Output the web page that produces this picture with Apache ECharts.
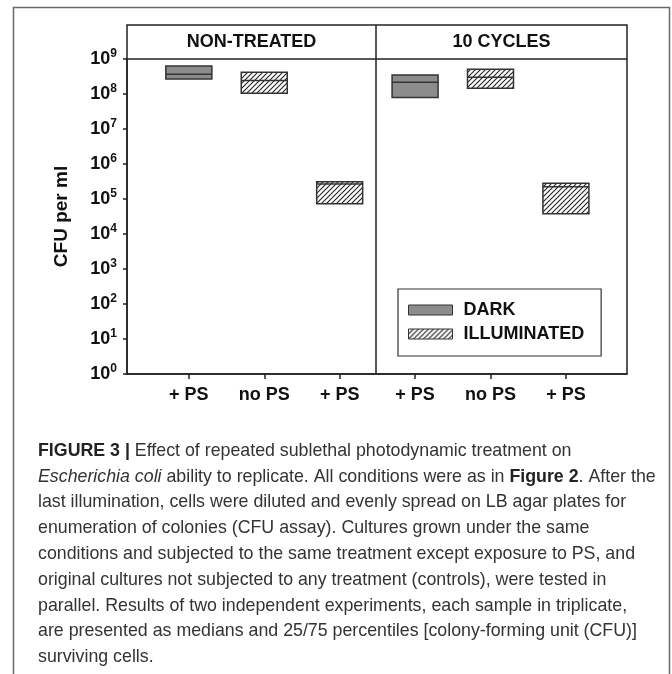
<!DOCTYPE html>
<html><head><meta charset="utf-8">
<script src="https://cdn.jsdelivr.net/npm/echarts@6/dist/echarts.min.js"></script>
<style>html,body{margin:0;padding:0;background:#fff}#c{width:672px;height:674px}</style>
</head><body><div id="c"></div>
<script>
// ---- data ----
const categories = ['+ PS', 'no PS', '+ PS', '+ PS', 'no PS', '+ PS'];
const panels = ['NON-TREATED', '10 CYCLES'];
const groups = ['DARK', 'ILLUMINATED', 'ILLUMINATED', 'DARK', 'ILLUMINATED', 'ILLUMINATED'];
const q25 = [2.7e8, 1.05e8, 7.3e4, 8.0e7, 1.45e8, 3.8e4];
const medians = [3.66e8, 2.45e8, 2.7e5, 2.16e8, 3.0e8, 2.24e5];
const q75 = [6.3e8, 4.2e8, 3.1e5, 3.5e8, 5.07e8, 2.8e5];
const legendNames = ['DARK', 'ILLUMINATED'];
const yTitle = 'CFU per ml';
const captionLines = [
  '{b|FIGURE 3 |}{n| Effect of repeated sublethal photodynamic treatment on}',
  '{i|Escherichia coli}{n| ability to replicate. All conditions were as in }{b|Figure 2}{n|. After the}',
  '{n|last illumination, cells were diluted and evenly spread on LB agar plates for}',
  '{n|enumeration of colonies (CFU assay). Cultures grown under the same}',
  '{n|conditions and subjected to the same treatment except exposure to PS, and}',
  '{n|original cultures not subjected to any treatment (controls), were tested in}',
  '{n|parallel. Results of two independent experiments, each sample in triplicate,}',
  '{n|are presented as medians and 25/75 percentiles [colony-forming unit (CFU)]}',
  '{n|surviving cells.}'
];

// ---- styling ----
const FONT = 'Liberation Sans, Arial, Helvetica, sans-serif';
const DARK_FILL = '#8c8c8c';
const BOX_W = 0.61;
const CAP_SIZE = 17.8;

function makeHatch() {
  const s = 5;
  const c = document.createElement('canvas'); c.width = s; c.height = s;
  const g = c.getContext('2d');
  g.fillStyle = '#fff'; g.fillRect(0, 0, s, s);
  g.strokeStyle = '#222'; g.lineWidth = 1.1;
  g.beginPath();
  g.moveTo(-1, s + 1); g.lineTo(s + 1, -1);
  g.moveTo(-1, 1); g.lineTo(1, -1);
  g.moveTo(s - 1, s + 1); g.lineTo(s + 1, s - 1);
  g.stroke();
  return c;
}
const hatchPattern = { image: makeHatch(), repeat: 'repeat' };
const fills = { DARK: DARK_FILL, ILLUMINATED: hatchPattern };

function seriesData(name) {
  const out = [];
  groups.forEach((g, i) => { if (g === name) out.push([i, q25[i], medians[i], q75[i]]); });
  return out;
}

function renderBox(fill) {
  return function (params, api) {
    const x = api.value(0);
    const lo = api.coord([x, api.value(1)]);
    const md = api.coord([x, api.value(2)]);
    const hi = api.coord([x, api.value(3)]);
    const w = api.size([BOX_W, 1])[0];
    const x0 = lo[0] - w / 2;
    return {
      type: 'group',
      children: [
        { type: 'rect', shape: { x: x0, y: hi[1], width: w, height: lo[1] - hi[1] },
          style: { fill: fill, stroke: '#333', lineWidth: 1.5 } },
        { type: 'line', shape: { x1: x0, y1: md[1], x2: x0 + w, y2: md[1] },
          style: { stroke: '#333', lineWidth: 1.5 } }
      ]
    };
  };
}

const chart = echarts.init(document.getElementById('c'), null, { renderer: 'canvas' });

const graphics = [
  { type: 'rect', shape: { x: 13.5, y: 7.5, width: 656, height: 720 }, style: { fill: 'none', stroke: '#6a6a6a', lineWidth: 1.5 }, z: 0 },
  { type: 'rect', shape: { x: 127, y: 25, width: 500, height: 349 }, style: { fill: 'none', stroke: '#222', lineWidth: 1.5 }, z: 5 },
  { type: 'line', shape: { x1: 127, y1: 59, x2: 627, y2: 59 }, style: { stroke: '#222', lineWidth: 1.5 }, z: 5 },
  { type: 'line', shape: { x1: 376, y1: 25, x2: 376, y2: 374 }, style: { stroke: '#222', lineWidth: 1.5 }, z: 5 },
  { type: 'text', x: 251.5, y: 42, style: { text: panels[0], fontFamily: FONT, fontWeight: 'bold', fontSize: 18, fill: '#111', align: 'center', verticalAlign: 'middle' }, z: 5 },
  { type: 'text', x: 501.5, y: 42, style: { text: panels[1], fontFamily: FONT, fontWeight: 'bold', fontSize: 18, fill: '#111', align: 'center', verticalAlign: 'middle' }, z: 5 }
];
const capRich = {
  n: { fontFamily: FONT, fontSize: CAP_SIZE, fill: '#333', color: '#333' },
  b: { fontFamily: FONT, fontSize: CAP_SIZE, fontWeight: 'bold', fill: '#222', color: '#222' },
  i: { fontFamily: FONT, fontSize: CAP_SIZE, fontStyle: 'italic', fill: '#333', color: '#333' }
};
captionLines.forEach((t, k) => {
  graphics.push({ type: 'text', x: 38, y: 451 + k * 25.8,
    style: { text: t, rich: capRich, fontFamily: FONT, fontSize: CAP_SIZE, fill: '#333', verticalAlign: 'middle' }, z: 5 });
});

chart.setOption({
  animation: false,
  backgroundColor: '#fff',
  grid: { left: 127, right: 45, top: 59, bottom: 300 },
  xAxis: {
    type: 'value', min: -0.82, max: 5.81,
    splitLine: { show: false },
    axisLine: { show: true, onZero: false, lineStyle: { color: '#222', width: 1.5 } },
    axisTick: { show: true, length: 5, customValues: categories.map((c, i) => i), lineStyle: { color: '#222', width: 1.5 } },
    axisLabel: { customValues: categories.map((c, i) => i), formatter: v => categories[Math.round(v)],
      margin: 12, fontFamily: FONT, fontWeight: 'bold', fontSize: 18, color: '#111' }
  },
  yAxis: {
    type: 'log', logBase: 10, min: 1, max: 1e9, splitNumber: 9,
    name: yTitle, nameLocation: 'middle', nameGap: 56, nameRotate: 90,
    nameTextStyle: { fontFamily: FONT, fontWeight: 'bold', fontSize: 19, color: '#111' },
    splitLine: { show: false },
    minorTick: { show: false },
    axisLine: { show: true, onZero: false, lineStyle: { color: '#222', width: 1.5 } },
    axisTick: { show: true, length: 4, lineStyle: { color: '#222', width: 1.5 } },
    axisLabel: {
      margin: 10,
      formatter: v => '{b|10}{s|' + Math.round(Math.log10(v)) + '}',
      rich: {
        b: { fontFamily: FONT, fontWeight: 'bold', fontSize: 18, color: '#111', lineHeight: 22, verticalAlign: 'middle' },
        s: { fontFamily: FONT, fontWeight: 'bold', fontSize: 12, color: '#111', lineHeight: 14, verticalAlign: 'top' }
      }
    }
  },
  legend: {
    orient: 'vertical', left: 398, top: 289,
    padding: [11, 17, 12, 10], itemGap: 4, itemWidth: 44, itemHeight: 10,
    borderColor: '#333', borderWidth: 1.2, backgroundColor: '#fff',
    textStyle: { fontFamily: FONT, fontWeight: 'bold', fontSize: 18, color: '#111', lineHeight: 20, padding: [0, 0, 0, 6] },
    data: [
      { name: legendNames[0], icon: 'rect', itemStyle: { color: fills.DARK, borderColor: '#333', borderWidth: 1 } },
      { name: legendNames[1], icon: 'rect', itemStyle: { color: fills.ILLUMINATED, borderColor: '#333', borderWidth: 1 } }
    ]
  },
  series: legendNames.map(name => ({
    type: 'custom', name: name,
    renderItem: renderBox(fills[name]),
    itemStyle: { color: name === 'DARK' ? DARK_FILL : '#fff' },
    encode: { x: 0, y: [1, 2, 3] },
    data: seriesData(name), z: 3
  })),
  graphic: graphics
});
</script></body></html>
